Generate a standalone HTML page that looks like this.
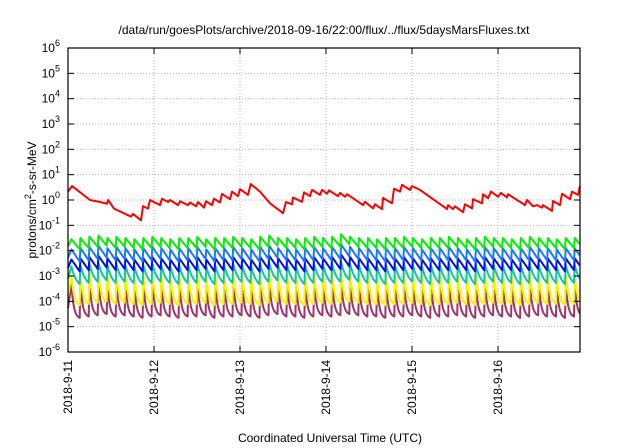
<!DOCTYPE html>
<html><head><meta charset="utf-8">
<style>
html,body{margin:0;padding:0;background:#fff;}
svg{display:block;font-family:"Liberation Sans",sans-serif;}
</style></head>
<body>
<svg id="chart" width="640" height="448" viewBox="0 0 640 448">
<text x="324" y="34" text-anchor="middle" font-size="12">/data/run/goesPlots/archive/2018-09-16/22:00/flux/../flux/5daysMarsFluxes.txt</text>
<text x="330" y="442" text-anchor="middle" font-size="12">Coordinated Universal Time (UTC)</text>
<text transform="translate(36,200) rotate(-90)" text-anchor="middle" font-size="12">protons/cm<tspan dy="-5" font-size="9">2</tspan><tspan dy="5">-s-sr-MeV</tspan></text>
<g id="grid"></g><g id="series"></g><g id="axes"></g>
</svg>
<script>
const xTickLabels = ["2018-9-11","2018-9-12","2018-9-13","2018-9-14","2018-9-15","2018-9-16"];
const yExponents = [-6,-5,-4,-3,-2,-1,0,1,2,3,4,5,6];
const xMaxDays = 5.953;
const redT = [0,.047,.256,.372,.453,.465,.535,.733,.756,.849,.872,.930,.953,1.070,1.093,1.163,1.186,1.279,1.302,1.395,1.419,1.488,1.512,1.581,1.605,1.674,1.698,1.767,1.791,1.884,1.907,1.977,2.0,2.093,2.124,2.233,2.349,2.5,2.535,2.605,2.616,2.721,2.744,2.814,2.837,2.930,2.953,3.012,3.035,3.140,3.163,3.221,3.244,3.430,3.453,3.547,3.570,3.651,3.663,3.767,3.791,3.860,3.884,3.977,4.0,4.093,4.407,4.419,4.477,4.5,4.593,4.616,4.698,4.709,4.814,4.826,4.884,4.919,5.0,5.035,5.105,5.116,5.314,5.337,5.407,5.453,5.512,5.523,5.628,5.640,5.721,5.744,5.837,5.860,5.930,5.953];
const redV = [.33,.55,0,-.08,-.15,0,-.34,-.66,-.55,-.8,-.24,-.34,0,-.2,.05,-.08,0,-.2,-.05,-.2,-.1,-.25,-.08,-.3,-.05,-.2,.05,-.1,.24,.03,.33,.15,.43,.2,.63,.33,-.13,-.52,-.08,-.17,.1,-.07,.3,.15,.4,.2,.4,.25,.38,.15,.28,.13,.23,-.2,-.07,-.33,-.17,-.36,.08,-.13,.45,.33,.6,.4,.55,.4,-.36,-.2,-.36,-.25,-.48,-.17,-.33,.03,-.13,.23,.07,.33,.13,.28,.1,.23,-.2,0,-.25,-.2,-.3,-.2,-.43,-.04,-.2,.25,.03,.33,.2,.55];
const greenPeaks = [-1.55,-1.5,-1.45,-1.4,-1.5,-1.45,-1.5,-1.55,-1.5,-1.45,-1.5,-1.55,-1.5,-1.5,-1.45,-1.55,-1.5,-1.5,-1.45,-1.5,-1.55,-1.45,-1.4,-1.5,-1.5,-1.55,-1.5,-1.45,-1.5,-1.45,-1.35,-1.45,-1.5,-1.5,-1.55,-1.5,-1.5,-1.45,-1.5,-1.55,-1.5,-1.5,-1.45,-1.5,-1.55,-1.5,-1.45,-1.5,-1.5,-1.55,-1.5,-1.45,-1.5,-1.5,-1.55,-1.5,-1.5];
const lightBluePeaks = [-1.95,-1.9,-1.85,-1.8,-1.9,-1.85,-1.9,-1.95,-1.9,-1.85,-1.9,-1.95,-1.9,-1.9,-1.85,-1.95,-1.9,-1.9,-1.85,-1.9,-1.95,-1.85,-1.8,-1.9,-1.9,-1.95,-1.9,-1.85,-1.9,-1.85,-1.75,-1.85,-1.9,-1.9,-1.95,-1.9,-1.9,-1.85,-1.9,-1.95,-1.9,-1.9,-1.85,-1.9,-1.95,-1.9,-1.85,-1.9,-1.9,-1.95,-1.9,-1.85,-1.9,-1.9,-1.95,-1.9,-1.9];
const bluePeaks = [-2.35,-2.3,-2.25,-2.2,-2.3,-2.25,-2.3,-2.35,-2.3,-2.25,-2.3,-2.35,-2.3,-2.3,-2.25,-2.35,-2.3,-2.3,-2.25,-2.3,-2.35,-2.25,-2.2,-2.3,-2.3,-2.35,-2.3,-2.25,-2.3,-2.25,-2.15,-2.25,-2.3,-2.3,-2.35,-2.3,-2.3,-2.25,-2.3,-2.35,-2.3,-2.3,-2.25,-2.3,-2.35,-2.3,-2.25,-2.3,-2.3,-2.35,-2.3,-2.25,-2.3,-2.3,-2.35,-2.3,-2.3];
const tealPeaks = [-2.62,-2.57,-2.52,-2.47,-2.57,-2.52,-2.57,-2.62,-2.57,-2.52,-2.57,-2.62,-2.57,-2.57,-2.52,-2.62,-2.57,-2.57,-2.52,-2.57,-2.62,-2.52,-2.47,-2.57,-2.57,-2.62,-2.57,-2.52,-2.57,-2.52,-2.45,-2.52,-2.57,-2.57,-2.62,-2.57,-2.57,-2.52,-2.57,-2.62,-2.57,-2.57,-2.52,-2.57,-2.62,-2.57,-2.52,-2.57,-2.57,-2.62,-2.57,-2.52,-2.57,-2.57,-2.62,-2.57,-2.57];
const yellowPeaks = [-3.0,-2.95,-2.9,-2.85,-2.95,-2.9,-2.95,-3.0,-2.95,-2.9,-2.95,-3.0,-2.95,-2.95,-2.9,-3.0,-2.95,-2.95,-2.9,-2.95,-3.0,-2.9,-2.85,-2.95,-2.95,-3.0,-2.95,-2.9,-2.95,-2.9,-2.85,-2.9,-2.95,-2.95,-3.0,-2.95,-2.95,-2.9,-2.95,-3.0,-2.95,-2.95,-2.9,-2.95,-3.0,-2.95,-2.9,-2.95,-2.95,-3.0,-2.95,-2.9,-2.95,-2.95,-3.0,-2.95,-2.95];
const purplePeaks = [-3.35,-3.3,-3.25,-3.2,-3.3,-3.25,-3.3,-3.35,-3.3,-3.25,-3.3,-3.35,-3.3,-3.3,-3.25,-3.35,-3.3,-3.3,-3.25,-3.3,-3.35,-3.25,-3.2,-3.3,-3.3,-3.35,-3.3,-3.25,-3.3,-3.25,-3.2,-3.25,-3.3,-3.3,-3.35,-3.3,-3.3,-3.25,-3.3,-3.35,-3.3,-3.3,-3.25,-3.3,-3.35,-3.3,-3.25,-3.3,-3.3,-3.35,-3.3,-3.25,-3.3,-3.3,-3.35,-3.3,-3.3];
const seriesDrops = [0.4,0.48,0.47,0.7,1.15,1.3];
const cyclePeriod = 0.1045;
const cycleOffset = 0.04;

const NS="http://www.w3.org/2000/svg";
const L=68,R=580,T=48,B=352;
const xs=d=>L+d*86;
const ys=lg=>B-(lg+6)*(B-T)/12;
function mk(tag,attrs,parent){const e=document.createElementNS(NS,tag);for(const k in attrs)e.setAttribute(k,attrs[k]);parent.appendChild(e);return e;}
const grid=document.getElementById('grid'),axes=document.getElementById('axes'),ser=document.getElementById('series');
// grid & y ticks
yExponents.forEach(ex=>{
  const y=ys(ex);
  if(ex>-6&&ex<6){const g=mk('line',{x1:L,x2:R,y1:y,y2:y,stroke:'#bbb','stroke-dasharray':'1,2','stroke-width':1},grid);
  
  }
  const t=mk('text',{x:L-8,y:y+4,'text-anchor':'end','font-size':12},axes);
  
  
  t.innerHTML='10<tspan dy="-6" font-size="9">'+ex+'</tspan>';
  mk('line',{x1:L,x2:L+6,y1:y,y2:y,stroke:'#000'},axes);
  mk('line',{x1:R-6,x2:R,y1:y,y2:y,stroke:'#000'},axes);
});
xTickLabels.forEach((lab,i)=>{
  const x=xs(i);
  if(i>0){const g=mk('line',{x1:x,x2:x,y1:T,y2:B,stroke:'#bbb','stroke-dasharray':'1,2','stroke-width':1},grid);
  
  }
  mk('line',{x1:x,x2:x,y1:B,y2:B-6,stroke:'#000'},axes);
  mk('line',{x1:x,x2:x,y1:T,y2:T+6,stroke:'#000'},axes);
  const t=mk('text',{transform:`translate(${x+4},${B+8}) rotate(-90)`,'text-anchor':'end','font-size':12},axes);
  
  
  t.textContent=lab;
});
const frame=mk('rect',{x:L,y:T,width:R-L,height:B-T,fill:'none',stroke:'#000','stroke-width':1.2},axes);


// sawtooth series
const peaksList=[greenPeaks,lightBluePeaks,bluePeaks,tealPeaks,yellowPeaks,purplePeaks];
const colors=['#00f000','#1a78ff','#0010e8','#10c8a0','#f5f500','#a0336a'];
const names=['series-green','series-light-blue','series-blue','series-teal','series-yellow','series-purple'];
const shapeK=[0.01,0.01,0.01,1.5,3,3.5];
const order=[5,4,3,2,1,0];
order.forEach(s=>{
  const pk=peaksList[s],drop=seriesDrops[s],k=shapeK[s];
  const g=u=>(1-Math.exp(-k*u))/(1-Math.exp(-k));
  const pts=[];
  pts.push([xs(0),ys(pk[0]-drop*0.7)]);
  for(let i=0;i<pk.length;i++){
    const t0=cycleOffset+i*cyclePeriod;
    if(t0>xMaxDays)break;
    for(let j=0;j<=10;j++){
      const u=j/10,t=t0+u*(cyclePeriod-0.008);
      if(t>xMaxDays)break;
      pts.push([xs(t),ys(pk[i]-drop*g(u))]);
    }
  }
  const p=mk('polyline',{points:pts.map(q=>q[0].toFixed(1)+','+q[1].toFixed(1)).join(' '),fill:'none',stroke:colors[s],'stroke-width':2,'stroke-linejoin':'round'},ser);
  
  
});
const rp=mk('polyline',{points:redT.map((t,i)=>xs(t).toFixed(1)+','+ys(redV[i]).toFixed(1)).join(' '),fill:'none',stroke:'#ff0000','stroke-width':2,'stroke-linejoin':'round'},ser);


</script>
</body></html>
